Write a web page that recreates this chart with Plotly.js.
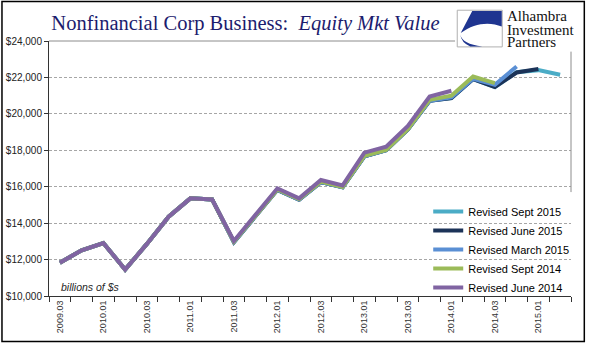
<!DOCTYPE html>
<html><head><meta charset="utf-8">
<script src="https://cdn.plot.ly/plotly-3.0.1.min.js"></script>
<style>html,body{margin:0;padding:0;background:#fff;overflow:hidden;}#chart{width:595px;height:361px;}</style>
</head><body><div id="chart"></div>
<script>
// ---- data ----
const categories = ["2009.03","2009.04","2010.01","2010.02","2010.03","2010.04","2011.01","2011.02","2011.03","2011.04",
  "2012.01","2012.02","2012.03","2012.04","2013.01","2013.02","2013.03","2013.04","2014.01","2014.02","2014.03","2014.04",
  "2015.01","2015.02"];
const tickLabels = ["2009.03","","2010.01","","2010.03","","2011.01","","2011.03","","2012.01","","2012.03","",
  "2013.01","","2013.03","","2014.01","","2014.03","","2015.01",""];
const yTicks = [10000,12000,14000,16000,18000,20000,22000,24000];
const yTickLabels = ["$10,000","$12,000","$14,000","$16,000","$18,000","$20,000","$22,000","$24,000"];
const seriesNames = ["Revised Sept 2015","Revised June 2015","Revised March 2015","Revised Sept 2014","Revised June 2014"];
const revSept2015 = [11830,12510,12910,11450,12860,14350,15360,15300,12960,14430,15830,15290,16250,15970,17670,18000,19140,20720,20870,21910,21470,22290,22400,22150];
const revJune2015 = [11830,12510,12910,11450,12860,14350,15360,15300,12960,14430,15830,15290,16250,15970,17670,18000,19140,20720,20870,21910,21470,22270,22460,null];
const revMarch2015 = [11830,12510,12910,11450,12860,14350,15360,15300,12960,14430,15830,15290,16250,15970,17670,18000,19140,20720,20900,21930,21600,22600,null,null];
const revSept2014 = [11830,12510,12910,11450,12860,14350,15360,15300,12980,14450,15850,15310,16280,15990,17690,18020,19160,20770,21000,22050,21690,null,null,null];
const revJune2014 = [11830,12510,12910,11450,12860,14350,15360,15300,13020,14480,15910,15360,16370,16070,17870,18200,19340,20950,21270,null,null,null,null,null];

// ---- styling ----
const colors = ["#4bacc6","#1c3358","#5a8fd4","#9bbb59","#8064a2"];
const allSeries = [revSept2015, revJune2015, revMarch2015, revSept2014, revJune2014];

const W=595,H=361,L=49,R=570.7,T=41.4,B=295.6;
const px = x => (x-L)/(R-L);
const py = y => (B-y)/(B-T);
function pathOf(cmds){
  return cmds.map(c=>{
    let s=c[0];
    const pts=[];
    for(let i=1;i<c.length;i+=2){pts.push(px(c[i]).toFixed(5)+","+py(c[i+1]).toFixed(5));}
    return s+" "+pts.join(" ");
  }).join(" ");
}

const traces = allSeries.map((ys,i)=>({
  type:"scatter", mode:"lines", name:seriesNames[i], x:categories, y:ys,
  line:{color:colors[i], width:4}, connectgaps:false, hoverinfo:"skip"
}));

const shapes = [
  {type:"line", xref:"paper", yref:"paper", x0:0, x1:px(455), y0:1, y1:1, line:{color:"#8c8c8c", width:1}, layer:"above"},
  {type:"line", xref:"paper", yref:"paper", x0:1, x1:1, y0:py(52), y1:py(192), line:{color:"#8c8c8c", width:1}, layer:"above"},
  {type:"rect", xref:"paper", yref:"paper", x0:px(455), x1:px(582), y0:py(51), y1:py(3), fillcolor:"#ffffff", line:{width:0}, layer:"above"},
  {type:"rect", xref:"paper", yref:"paper", x0:px(457), x1:px(502), y0:py(47.3), y1:py(10.7), fillcolor:"#ffffff", line:{color:"#b0b0b0", width:1}, layer:"above"},
  {type:"path", xref:"paper", yref:"paper", layer:"above", fillcolor:"#1f3590", line:{width:0},
   path: pathOf([["M",472,11.5],["L",501.5,11.5],["L",501.5,27],["C",490,22,474,23,460.5,33.5],["Z"]])},
  {type:"path", xref:"paper", yref:"paper", layer:"above", fillcolor:"#1f3590", line:{width:0},
   path: pathOf([["M",460,35],["Q",462,44.5,482,47],["L",470,47],["Q",461,43,460,35],["Z"]])},
  {type:"rect", xref:"paper", yref:"paper", x0:px(2), x1:px(584), y0:py(341), y1:py(2), line:{color:"#000000", width:1.5}, layer:"above"}
];

const logoFont = {family:"Liberation Serif, Times New Roman, serif", size:15, color:"#111111"};
const annotations = [
  {xref:"paper", yref:"paper", x:px(59), y:py(287), xanchor:"left", yanchor:"middle", showarrow:false,
   text:"<i>billions of $s</i>", font:{family:"Liberation Sans, Arial, sans-serif", size:10.5, color:"#262626"}},
  {xref:"paper", yref:"paper", x:px(506), y:py(16.5), xanchor:"left", yanchor:"middle", showarrow:false,
   text:"Alhambra", font:logoFont, height:12, borderpad:0},
  {xref:"paper", yref:"paper", x:px(506), y:py(30.5), xanchor:"left", yanchor:"middle", showarrow:false,
   text:"Investment", font:logoFont, height:12, borderpad:0},
  {xref:"paper", yref:"paper", x:px(506), y:py(42.5), xanchor:"left", yanchor:"middle", showarrow:false,
   text:"Partners", font:logoFont, height:12, borderpad:0}
];

const layout = {
  width:W, height:H,
  margin:{l:L, r:W-R, t:T, b:H-B, pad:0},
  paper_bgcolor:"#ffffff", plot_bgcolor:"#ffffff",
  title:{text:"Nonfinancial Corp Business:\u00a0 <i>Equity Mkt Value</i>", xref:"container", yref:"container",
    x:245.5/W, xanchor:"center", y:1-23/H, yanchor:"middle",
    font:{family:"Liberation Serif, Times New Roman, serif", size:20.5, color:"#1c1c6e"}},
  showlegend:true,
  legend:{x:px(428), y:py(197), xanchor:"left", yanchor:"top", bgcolor:"rgba(0,0,0,0)", borderwidth:0,
    font:{family:"Liberation Sans, Arial, sans-serif", size:11, color:"#000000"}, itemwidth:30, traceorder:"normal"},
  xaxis:{type:"category", range:[-0.5,23.5], tickmode:"array", tickvals:categories, ticktext:tickLabels,
    tickson:"boundaries", ticks:"outside", ticklen:5, tickcolor:"#333333", tickwidth:1, tickangle:-90,
    showline:true, linecolor:"#333333", linewidth:1, showgrid:false, zeroline:false, fixedrange:true,
    tickfont:{family:"Liberation Sans, Arial, sans-serif", size:9, color:"#333333"}},
  yaxis:{range:[10000,24000], tickmode:"array", tickvals:yTicks, ticktext:yTickLabels,
    ticks:"outside", ticklen:4, tickcolor:"#333333", showline:true, linecolor:"#333333", linewidth:1,
    showgrid:true, gridcolor:"#a6a6a6", gridwidth:1, griddash:"3px,2px", zeroline:false, fixedrange:true,
    tickfont:{family:"Liberation Sans, Arial, sans-serif", size:10, color:"#222222"}},
  shapes:shapes, annotations:annotations
};

Plotly.newPlot("chart", traces, layout, {staticPlot:true, displayModeBar:false});
</script>
</body></html>
